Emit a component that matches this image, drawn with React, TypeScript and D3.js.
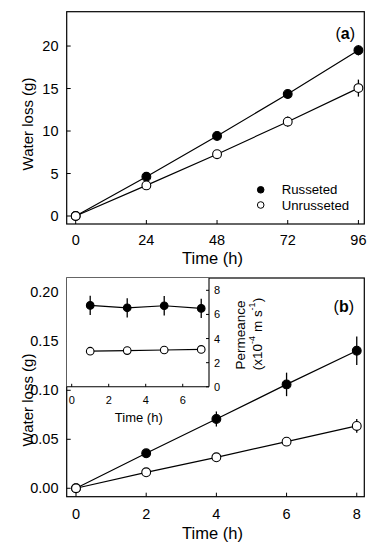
import React from "react";
import * as d3 from "d3";

// Panel (a)
const timeA = [0, 24, 48, 72, 96];
const russetedA = [0, 4.62, 9.42, 14.35, 19.5];
const russetedAErr = [0, 0.25, 0.3, 0.4, 0.6];
const unrussetedA = [0, 3.6, 7.27, 11.1, 15.05];
const unrussetedAErr = [0, 0.2, 0.3, 0.6, 1.0];
const xTicksA = [0, 24, 48, 72, 96];
const yTicksA = [0, 5, 10, 15, 20];

// Panel (b)
const timeB = [0, 2, 4, 6, 8];
const russetedB = [0, 0.0357, 0.0707, 0.106, 0.1404];
const russetedBErr = [0, 0.002, 0.0077, 0.012, 0.0145];
const unrussetedB = [0, 0.0163, 0.0316, 0.0476, 0.0636];
const unrussetedBErr = [0, 0.001, 0.0015, 0.003, 0.007];
const xTicksB = [0, 2, 4, 6, 8];
const yTicksB = [0, 0.05, 0.1, 0.15, 0.2];

// Inset (permeance)
const timeIn = [1, 3, 5, 7];
const russetedIn = [6.75, 6.55, 6.72, 6.5];
const russetedInErr = [0.8, 0.8, 0.8, 0.8];
const unrussetedIn = [2.95, 3.0, 3.05, 3.1];
const unrussetedInErr = [0.2, 0.2, 0.2, 0.2];
const xTicksIn = [0, 2, 4, 6];
const yTicksIn = [0, 2, 4, 6, 8];

const FONT = "'Liberation Sans', Arial, Helvetica, sans-serif";

type Series = { y: number[]; err: number[]; filled: boolean };

function Marks({
  xs, series, xScale, yScale, r,
}: {
  xs: number[]; series: Series[]; xScale: d3.ScaleLinear<number, number>;
  yScale: d3.ScaleLinear<number, number>; r: number;
}) {
  const line = d3.line<number>().x((_, i) => xScale(xs[i])).y((d) => yScale(d));
  return (
    <g>
      {series.map((s, si) => (
        <path key={"l" + si} d={line(s.y) || ""} fill="none" stroke="#000" strokeWidth={1.2} />
      ))}
      {series.map((s, si) =>
        s.y.map((v, i) =>
          s.err[i] > 0 ? (
            <line key={"e" + si + "-" + i} x1={xScale(xs[i])} x2={xScale(xs[i])}
              y1={yScale(v - s.err[i])} y2={yScale(v + s.err[i])} stroke="#000" strokeWidth={1.3} />
          ) : null
        )
      )}
      {series.map((s, si) =>
        s.y.map((v, i) => (
          <circle key={"c" + si + "-" + i} cx={xScale(xs[i])} cy={yScale(v)} r={r}
            fill={s.filled ? "#000" : "#fff"} stroke="#000" strokeWidth={1.1} />
        ))
      )}
    </g>
  );
}

export default function App() {
  // Panel a geometry
  const aL = 66.7, aR = 364.3, aT = 11.7, aB = 224;
  const xA = d3.scaleLinear().domain([-3.05, 98]).range([aL, aR]);
  const yA = d3.scaleLinear().domain([-0.94, 24.04]).range([aB, aT]);

  // Panel b geometry
  const bL = 66.7, bR = 364.3, bT = 278, bB = 496.7;
  const xB = d3.scaleLinear().domain([-0.265, 8.215]).range([bL, bR]);
  const yB = d3.scaleLinear().domain([-0.0086, 0.2146]).range([bB, bT]);

  // Inset geometry
  const iL = 66.7, iR = 209, iT = 278, iB = 386.8;
  const xI = d3.scaleLinear().domain([-0.27, 7.42]).range([iL, iR]);
  const yI = d3.scaleLinear().domain([0, 9.02]).range([iB, iT]);

  const tickLen = 4;

  return (
    <svg width={375} height={550} style={{ position: "absolute", left: 0, top: 0, background: "#fff" }}
      fontFamily={FONT}>
      <rect x={0} y={0} width={375} height={550} fill="#fff" />

      {/* ---------- Panel a ---------- */}
      <Marks xs={timeA} xScale={xA} yScale={yA} r={4.4}
        series={[
          { y: russetedA, err: russetedAErr, filled: true },
          { y: unrussetedA, err: unrussetedAErr, filled: false },
        ]} />
      <rect x={aL} y={aT} width={aR - aL} height={aB - aT} fill="none" stroke="#000" strokeWidth={1.2} />
      {xTicksA.map((t) => (
        <g key={"xa" + t}>
          <line x1={xA(t)} x2={xA(t)} y1={aB} y2={aB - tickLen} stroke="#000" strokeWidth={1} />
          <text x={xA(t)} y={240} textAnchor="middle" dominantBaseline="central" fontSize={14.5}>{t}</text>
        </g>
      ))}
      {yTicksA.map((t) => (
        <g key={"ya" + t}>
          <line x1={aL} x2={aL + tickLen} y1={yA(t)} y2={yA(t)} stroke="#000" strokeWidth={1} />
          <text x={58.5} y={yA(t)} textAnchor="end" dominantBaseline="central" fontSize={14.5}>{t}</text>
        </g>
      ))}
      <text x={212.5} y={258.3} textAnchor="middle" dominantBaseline="central" fontSize={16.5}>Time (h)</text>
      <text transform={`translate(27.5,124) rotate(-90)`} textAnchor="middle" dominantBaseline="central" fontSize={15}>
        Water loss (g)
      </text>
      <text x={355} y={33.3} textAnchor="end" dominantBaseline="central" fontSize={16}>
        (<tspan fontWeight="bold">a</tspan>)
      </text>
      {/* legend */}
      <circle cx={260.7} cy={189.8} r={3.3} fill="#000" stroke="#000" strokeWidth={1} />
      <text x={281.7} y={189.8} dominantBaseline="central" fontSize={13.2}>Russeted</text>
      <circle cx={260.7} cy={205} r={3.3} fill="#fff" stroke="#000" strokeWidth={1} />
      <text x={281.7} y={205} dominantBaseline="central" fontSize={13.2}>Unrusseted</text>

      {/* ---------- Panel b ---------- */}
      <Marks xs={timeB} xScale={xB} yScale={yB} r={4.4}
        series={[
          { y: russetedB, err: russetedBErr, filled: true },
          { y: unrussetedB, err: unrussetedBErr, filled: false },
        ]} />
      <rect x={bL} y={bT} width={bR - bL} height={bB - bT} fill="none" stroke="#000" strokeWidth={1.2} />
      {xTicksB.map((t) => (
        <g key={"xb" + t}>
          <line x1={xB(t)} x2={xB(t)} y1={bB} y2={bB - tickLen} stroke="#000" strokeWidth={1} />
          <text x={xB(t)} y={514} textAnchor="middle" dominantBaseline="central" fontSize={14.5}>{t}</text>
        </g>
      ))}
      {yTicksB.map((t) => (
        <g key={"yb" + t}>
          <line x1={bL} x2={bL + tickLen} y1={yB(t)} y2={yB(t)} stroke="#000" strokeWidth={1} />
          <text x={58.5} y={yB(t)} textAnchor="end" dominantBaseline="central" fontSize={14.5}>{t.toFixed(2)}</text>
        </g>
      ))}
      <text x={212.5} y={533.3} textAnchor="middle" dominantBaseline="central" fontSize={16.5}>Time (h)</text>
      <text transform={`translate(27.5,400) rotate(-90)`} textAnchor="middle" dominantBaseline="central" fontSize={15}>
        Water loss (g)
      </text>
      <text x={354} y={306} textAnchor="end" dominantBaseline="central" fontSize={16}>
        (<tspan fontWeight="bold">b</tspan>)
      </text>

      {/* ---------- Inset ---------- */}
      <rect x={iL} y={iT} width={iR - iL} height={iB - iT} fill="#fff" stroke="none" />
      <Marks xs={timeIn} xScale={xI} yScale={yI} r={3.8}
        series={[
          { y: russetedIn, err: russetedInErr, filled: true },
          { y: unrussetedIn, err: unrussetedInErr, filled: false },
        ]} />
      <line x1={iL} x2={iR} y1={iB} y2={iB} stroke="#000" strokeWidth={1.1} />
      <line x1={iR} x2={iR} y1={iT} y2={iB} stroke="#000" strokeWidth={1.1} />
      {xTicksIn.map((t) => (
        <g key={"xi" + t}>
          <line x1={xI(t)} x2={xI(t)} y1={iB} y2={iB - 3} stroke="#000" strokeWidth={1} />
          <text x={xI(t)} y={400} textAnchor="middle" dominantBaseline="central" fontSize={11}>{t}</text>
        </g>
      ))}
      {yTicksIn.map((t) => (
        <g key={"yi" + t}>
          <line x1={iR} x2={iR - 3} y1={yI(t)} y2={yI(t)} stroke="#000" strokeWidth={1} />
          <text x={214} y={yI(t)} textAnchor="start" dominantBaseline="central" fontSize={11}>{t}</text>
        </g>
      ))}
      <text x={138.8} y={417.7} textAnchor="middle" dominantBaseline="central" fontSize={13}>Time (h)</text>
      <text transform={`translate(240,335) rotate(-90)`} textAnchor="middle" dominantBaseline="central" fontSize={13.5}>
        Permeance
      </text>
      <text transform={`translate(257,334) rotate(-90)`} textAnchor="middle" dominantBaseline="central" fontSize={13.5}>
        (x10<tspan fontSize={9} dy={-5}>-4</tspan><tspan dy={5}> m s</tspan><tspan fontSize={9} dy={-5}>-1</tspan><tspan dy={5}>)</tspan>
      </text>
    </svg>
  );
}
